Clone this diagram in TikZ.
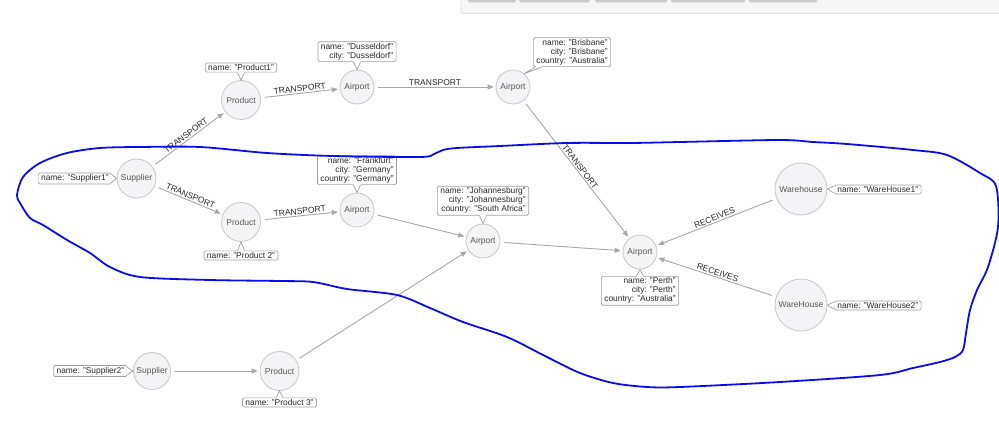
\documentclass[tikz,border=0pt]{standalone}
\usepackage{fontspec}
\setmainfont{Liberation Sans}
\usetikzlibrary{arrows.meta,calc}
\definecolor{nodefill}{RGB}{244,244,246}
\definecolor{nodeline}{RGB}{200,200,204}
\definecolor{nodetext}{RGB}{85,85,85}
\definecolor{edgecol}{RGB}{168,168,172}
\definecolor{labtext}{RGB}{40,40,40}
\definecolor{propline}{RGB}{160,160,160}
\definecolor{loopblue}{RGB}{12,12,235}
\definecolor{panelfill}{RGB}{246,246,246}
\definecolor{panelline}{RGB}{222,222,222}
\definecolor{btnfill}{RGB}{204,204,204}
\tikzset{
 gnode/.style={circle, draw=nodeline, fill=nodefill, line width=0.8pt, inner sep=0pt, text=nodetext, font=\fontsize{8.5}{10}\selectfont},
 airport/.style={gnode, minimum size=34pt},
 prodnode/.style={gnode, minimum size=39pt},
 wareh/.style={gnode, minimum size=52pt},
 prop/.style={draw=propline, fill=white, rounded corners=1.5pt, line width=0.7pt, inner xsep=3pt, inner ysep=1.5pt, align=right, text=labtext, font=\fontsize{8.4}{9}\selectfont},
 rel/.style={draw=edgecol, line width=0.9pt, -{Triangle[length=6pt,width=5pt]}, shorten <=4pt, shorten >=2pt},
 rlab/.style={sloped, above, inner sep=1.2pt, text=labtext, font=\fontsize{8.5}{10}\selectfont},
 btn/.style={fill=btnfill, draw=panelline, rounded corners=1.5pt, line width=0.5pt},
}
\newcommand{\notchb}[3]{%
 \fill[white] (#1) -- (#3) -- (#2) -- cycle;
 \draw[white, line width=1.4pt] (#1) -- (#2);
 \draw[propline, line width=0.7pt] (#1) -- (#3) -- (#2);}
\newcommand{\notch}[2]{\notchb{$(#1)!3.5pt!90:(#2)$}{$(#1)!3.5pt!-90:(#2)$}{#2}}
\begin{document}
\begin{tikzpicture}[x=1pt,y=-1pt]
\useasboundingbox[fill=white] (0,0) rectangle (999,441);
% top panel
\fill[panelfill] (461,-2) rectangle (1000,13);
\draw[panelline, line width=0.8pt] (461,-2) -- (461,12) to[out=-90,in=180] (463,13.5) -- (1000,13.5);
\draw[btn] (468,-3) rectangle (516,2.5);
\draw[btn] (519,-3) rectangle (590,2.5);
\draw[btn] (595,-3) rectangle (667,2.5);
\draw[btn] (671,-3) rectangle (745,2.5);
\draw[btn] (749,-3) rectangle (817,2.5);

% nodes
\node[prodnode] (sup1) at (136.5,178.5) {Supplier};
\node[prodnode] (prod1) at (241,100) {Product};
\node[airport] (dus) at (357,87) {Airport};
\node[airport] (bris) at (513,87) {Airport};
\node[prodnode] (prod2) at (241,222) {Product};
\node[airport] (fra) at (357,210) {Airport};
\node[airport] (jnb) at (483,241) {Airport};
\node[airport] (per) at (640,252) {Airport};
\node[wareh] (wh1) at (801,189) {Warehouse};
\node[wareh] (wh2) at (801,305) {WareHouse};
\node[prodnode, minimum size=37pt] (sup2) at (152,371) {Supplier};
\node[prodnode] (prod3) at (279.5,371) {Product};

% relationships
\draw[rel] (sup1) -- node[rlab]{TRANSPORT} (prod1);
\draw[rel] (sup1) -- node[rlab]{TRANSPORT} (prod2);
\draw[rel] (prod1) -- node[rlab]{TRANSPORT} (dus);
\draw[rel] (dus) -- node[rlab]{TRANSPORT} (bris);
\draw[rel] (bris) -- node[rlab]{TRANSPORT} (per);
\draw[rel] (prod2) -- node[rlab]{TRANSPORT} (fra);
\draw[rel] (fra) -- (jnb);
\draw[rel] (jnb) -- (per);
\draw[rel] (prod3) -- (jnb);
\draw[rel] (sup2) -- (prod3);
\draw[rel] (wh1) -- node[rlab]{RECEIVES} (per);
\draw[rel] (wh2) -- node[rlab]{RECEIVES} (per);

% property boxes
\node[prop, anchor=east] (psup1) at (112,178.5) {name: "Supplier1"};
\node[prop, anchor=south] (pprod1) at (241,72.5) {name: "Product1"};
\node[prop, anchor=south] (pdus) at (357,62) {name: "Dusseldorf"\\city: "Dusseldorf"};
\node[prop, anchor=south west] (pbris) at (533,67) {name: "Brisbane"\\city: "Brisbane"\\country: "Australia"};
\node[prop, anchor=south] (pfra) at (357,185) {name: "Frankfurt"\\city: "Germany"\\country: "Germany"};
\node[prop, anchor=south] (pjnb) at (483,215.5) {name: "Johannesburg"\\city: "Johannesburg"\\country: "South Africa"};
\node[prop, anchor=north] (pper) at (640,276) {name: "Perth"\\city: "Perth"\\country: "Australia"};
\node[prop, anchor=west] (pwh1) at (834,189.5) {name: "WareHouse1"};
\node[prop, anchor=west] (pwh2) at (834,305.5) {name: "WareHouse2"};
\node[prop, anchor=north] (pprod2) at (241,250.5) {name: "Product 2"};
\node[prop, anchor=east] (psup2) at (127.5,371) {name: "Supplier2"};
\node[prop, anchor=north] (pprod3) at (279.5,397.5) {name: "Product 3"};

% notches
\notch{pprod1.south}{prod1.north}
\notch{pdus.south}{dus.north}
\notchb{[xshift=2.5pt]pbris.south west}{[xshift=9pt]pbris.south west}{bris.50}
\notch{pfra.south}{fra.north}
\notch{pjnb.south}{jnb.north}
\notch{pper.north}{per.south}
\notch{pwh1.west}{wh1.east}
\notch{pwh2.west}{wh2.east}
\notch{psup1.east}{sup1.west}
\notch{pprod2.north}{prod2.south}
\notch{psup2.east}{sup2.west}
\notch{pprod3.north}{prod3.south}

% hand-drawn loop
\draw[loopblue, line width=1.8pt, line join=round] plot[smooth cycle, tension=0.5] coordinates {
(140,147) (200,147) (267,153) (333,156) (420,157) (434,154) (443,150) (457,148) (500,146) (567,143) (630,143) (680,142) (780,140) (813,142) (847,144) (913,150) (947,155) (980,173) (996,186) (998,227) (988,267) (977,290) (970,310) (966,333) (963,350) (955,357) (940,362) (913,368) (880,375) (780,382) (680,387) (647,387) (613,383) (580,373) (547,357) (507,337) (463,322) (430,308) (397,295) (347,289) (313,282) (280,281) (210,280) (140,277) (110,267) (90,253) (67,240) (43,225) (30,218) (20,203) (17,195) (23,177) (40,163) (67,153) (100,148)};
\end{tikzpicture}
\end{document}
